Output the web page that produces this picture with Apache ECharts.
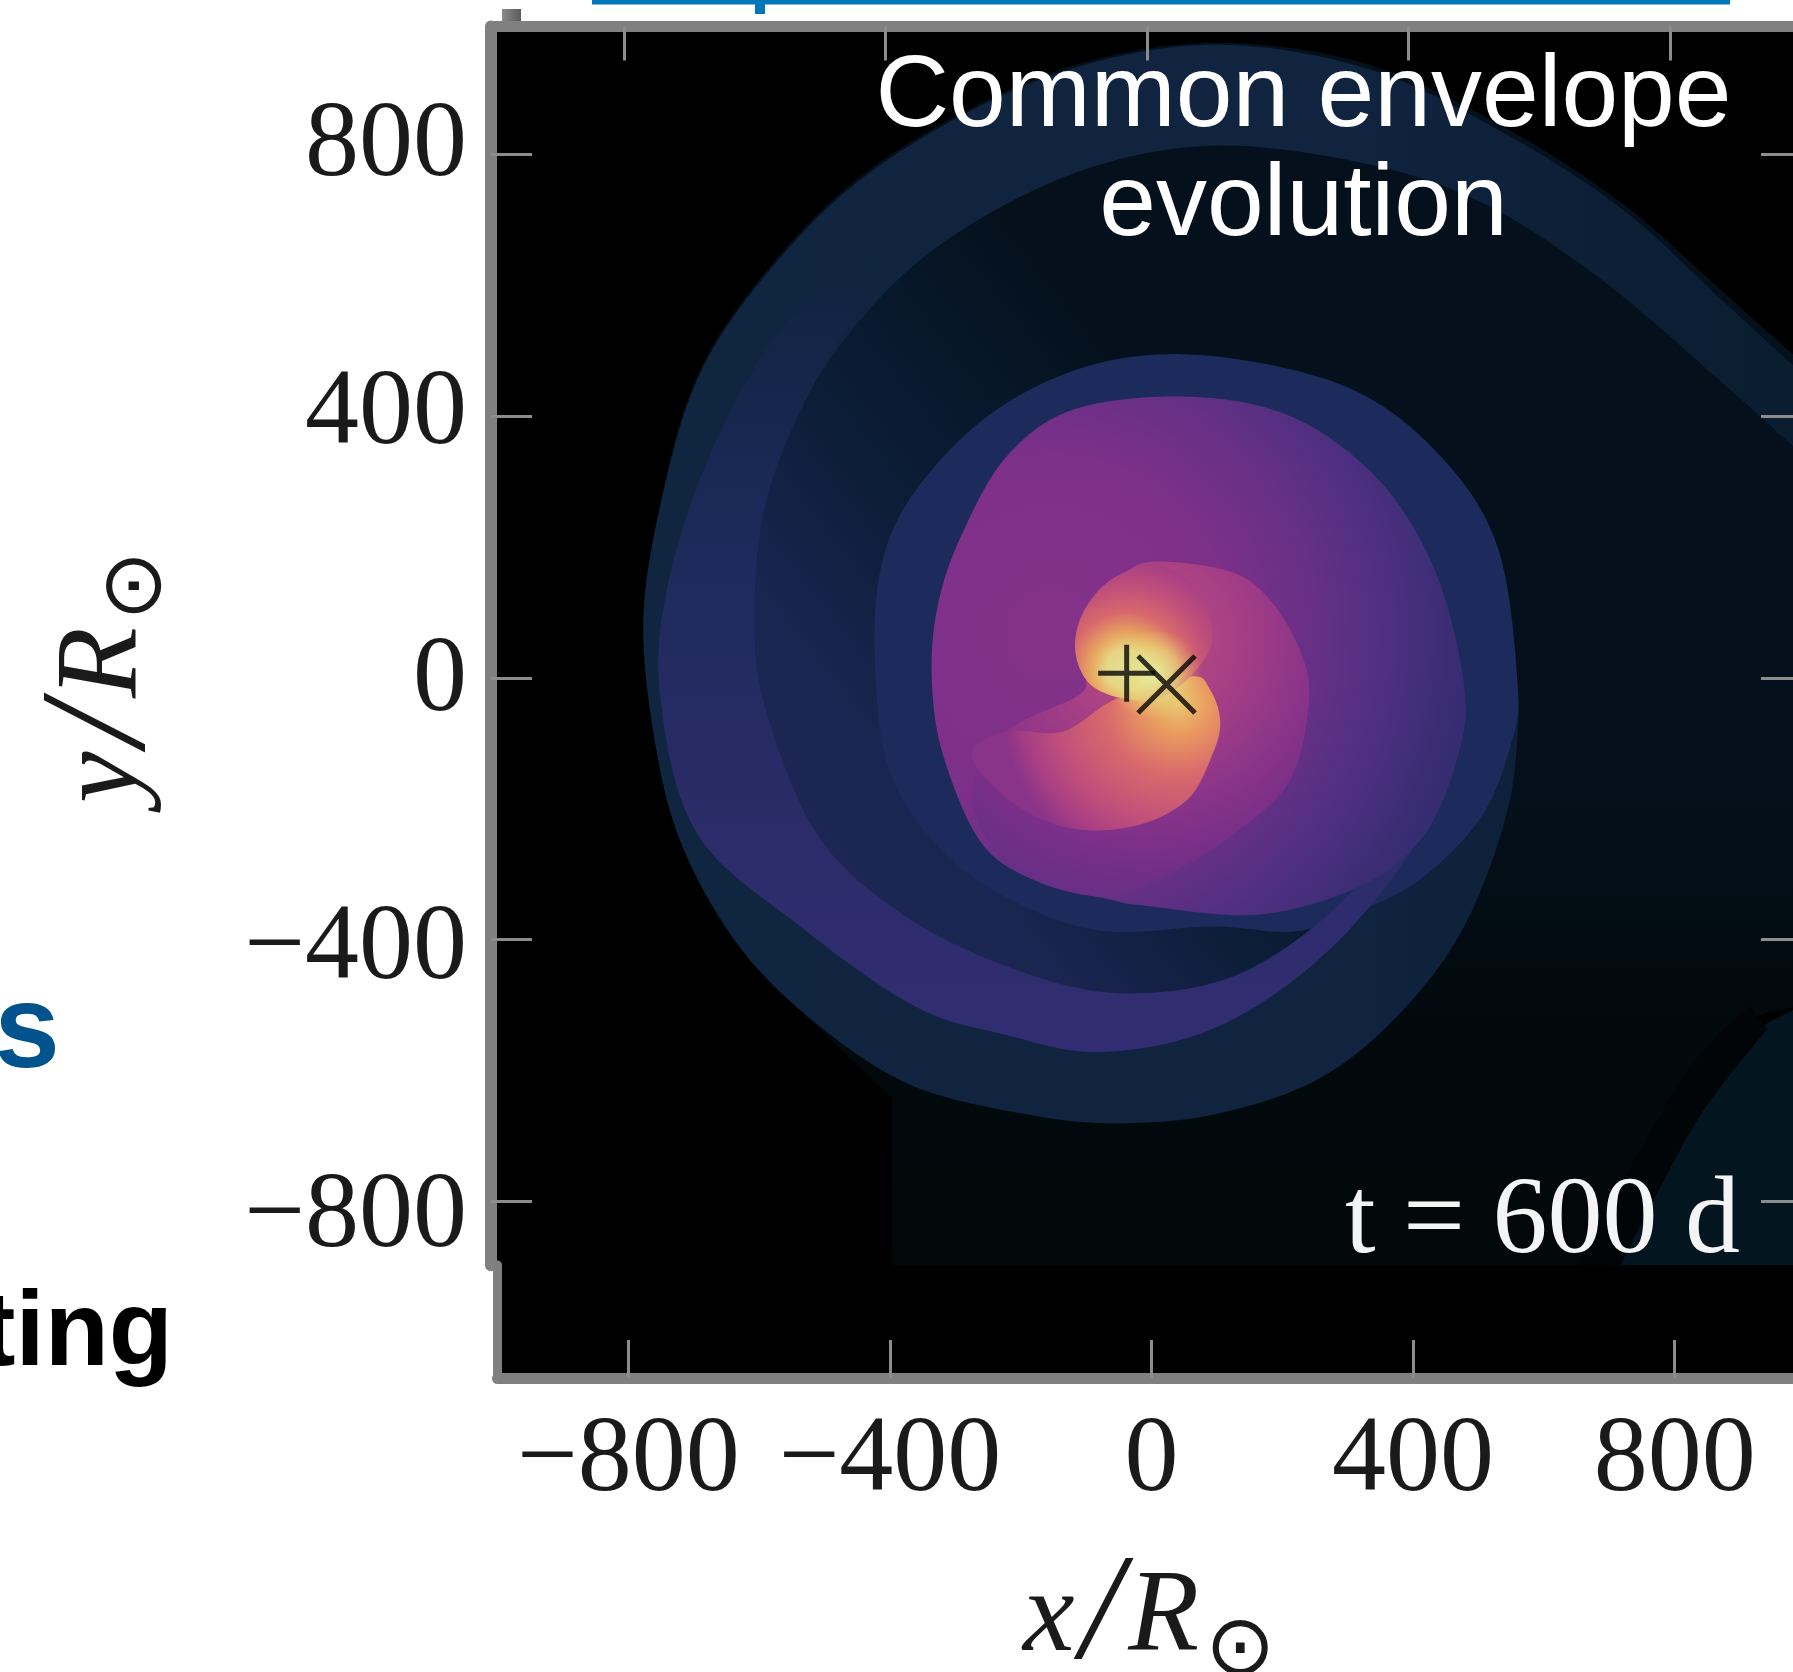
<!DOCTYPE html>
<html><head><meta charset="utf-8">
<style>html,body{margin:0;padding:0;background:#fff}#c{width:1793px;height:1672px}</style>
<script src="https://cdn.jsdelivr.net/npm/echarts@6/dist/echarts.min.js"></script>
</head><body><div id="c"></div>
<script>
const tickValues = [-800, -400, 0, 400, 800];
const primaryPosition = [-31, 7];
const secondaryPosition = [30, -10];

// contour outlines in units of R_sun; a third entry marks a sharp corner
const fieldOutline = [[117,971],[345,936],[555,837],[730,723],[870,600],[1045,443,1],[1045,-502,1],[901,-536],[747,-751],[686,-922,1],[-390,-922,1],[-390,-642,1],[-618,-415],[-705,-257],[-749,-100],[-767,93],[-740,285],[-688,460],[-600,600],[-460,749],[-285,863],[-93,942]];
const tailBandOutline = [[1045,-485,1],[922,-546],[817,-677],[739,-817],[695,-922,1],[1045,-922,1]];
const tailGapOutline = [[922,-502,1],[835,-590],[730,-765],[651,-922,1],[712,-922,1],[774,-800],[852,-660],[949,-537,1]];
const outerArmOutline = [[1045,425,1],[870,586],[730,714],[555,828],[345,929],[117,968],[-93,938],[-285,859],[-460,744],[-600,595],[-688,455],[-740,282],[-770,93],[-752,-100],[-709,-261],[-618,-418],[-495,-537],[-355,-625],[-180,-668],[-49,-681],[100,-668],[257,-616],[380,-520],[485,-380],[555,-187],[569,-12,1],[1045,-12,1]];
const gapOutline = [[1045,303,1],[870,460],[695,609],[520,723],[345,784],[117,814],[-75,784],[-250,705],[-390,600],[-513,443],[-583,268],[-600,93],[-583,-47],[-504,-240],[-373,-362],[-215,-441],[-58,-481],[100,-467],[222,-406,1],[345,-310],[467,-100],[590,-30,1],[1045,-30,1]];
const innerArmOutline = [[100,492],[310,443],[450,338],[537,198],[567,-12],[557,-100],[511,-213],[415,-310],[310,-362],[222,-388],[100,-380],[-58,-388],[-180,-353],[-303,-275],[-390,-152],[-415,0],[-408,163],[-355,285],[-233,408],[-75,481]];
const midBandOutline = [[-408,644,1],[-548,548],[-662,355],[-732,145],[-744,-30],[-688,-238],[-530,-380],[-355,-502],[-215,-546],[-72,-572],[100,-537],[261,-432],[397,-275],[480,-105,1],[345,-292],[222,-406],[100,-467],[-58,-481],[-215,-441],[-373,-362],[-504,-240],[-583,-47],[-600,93],[-583,268],[-513,443],[-408,618,1]];
const purpleOutline = [[65,430],[222,399],[354,303],[441,163],[485,-12],[476,-117],[424,-240],[327,-318],[170,-362],[-5,-348],[-60,-338],[-163,-313],[-252,-254],[-312,-117],[-329,0],[-320,110],[-285,215],[-215,338],[-110,411]];
const magentaOutline = [[19,178],[126,163],[184,124],[231,49],[248,-30],[219,-156],[131,-240],[30,-301],[-60,-334],[-163,-313],[-233,-266],[-268,-170],[-215,-82],[-110,-30],[-93,-3],[-110,49],[-93,108],[-31,163]];
const lowerLobeOutline = [[66,2],[96,-17],[112,-65],[101,-115],[61,-187],[-21,-227],[-122,-229],[-210,-187],[-268,-117],[-215,-82],[-128,-82],[-49,-33]];
const upperLobeOutline = [[19,173],[-49,154],[-93,108],[-110,49],[-93,-3],[-51,-28],[12,-33],[66,2],[100,58],[82,128]];
const glowOutline = [[-80,2],[-60,50],[0,70],[60,60],[100,10],[90,-40],[40,-60],[-40,-50]];

const lin = (x,y,x2,y2,stops)=>({type:'linear',x,y,x2,y2,global:false,colorStops:stops.map(s=>({offset:s[0],color:s[1]}))});
const rad = (x,y,r,stops)=>({type:'radial',x,y,r,global:false,colorStops:stops.map(s=>({offset:s[0],color:s[1]}))});

const layers = [
  {points: fieldOutline, fill: lin(0,0,0,1,[[0,'#04111c'],[.6,'#04111c'],[.76,'#020a0f'],[1,'#020708']])},
  {points: tailBandOutline, fill:'#03161f'},
  {points: tailGapOutline, fill:'#010507'},
  {points: outerArmOutline, fill: lin(0,0,1,0,[[0,'#10253f'],[.6,'#10233f'],[1,'#0a1c2e']])},
  {points: gapOutline, fill: lin(0,1,1,0,[[0,'#1e2757'],[.18,'#1b2551'],[.3,'#0c1d38'],[.5,'#04111c'],[1,'#04111c']])},
  {points: innerArmOutline, fill:'#1c2b5c'},
  {points: midBandOutline, fill: lin(0,0,0,1,[[0,'#10253f'],[.15,'#14264a'],[.35,'#1c2a5a'],[.75,'#2c2c6a'],[1,'#322d72']])},
  {points: purpleOutline, fill: rad(.226,.46,.85,[[0,'#85328a'],[.4,'#7d3088'],[.6,'#663086'],[.78,'#4c2f7f'],[.9,'#3a2d74'],[1,'#332c70']])},
  {points: magentaOutline, fill: rad(.51,.235,.785,[[0,'#c0507a'],[.22,'#b04582'],[.43,'#a03c86'],[.63,'#8a3489'],[.8,'#7a2f88'],[1,'#682f86']])},
  {points: lowerLobeOutline, fill: rad(.83,.17,1.14,[[0,'#e8c870'],[.18,'#ea9a60'],[.42,'#d8696c'],[.7,'#c0507a'],[.88,'#a83e85'],[1,'#8a3489']])},
  {points: upperLobeOutline, fill: rad(.375,.77,.8,[[0,'#dfe9a8'],[.18,'#e6d888'],[.32,'#e8a860'],[.52,'#d8696c'],[.75,'#c0507a'],[1,'#a83e85']])},
  {points: glowOutline, fill: rad(.5,.5,.55,[[0,'rgba(228,240,165,.95)'],[.55,'rgba(232,220,130,.6)'],[1,'rgba(232,190,100,0)']])}
];

// closed Catmull-Rom path through the outline's pixel positions
function curve(px, sharp){
  const n = px.length, out = [], steps = 10;
  const tan = i => sharp[i] ? [0,0] : [(px[(i+1)%n][0]-px[(i-1+n)%n][0])/2,(px[(i+1)%n][1]-px[(i-1+n)%n][1])/2];
  for(let i=0;i<n;i++){
    const a=px[i], b=px[(i+1)%n], ta=tan(i), tb=tan((i+1)%n);
    for(let s=0;s<steps;s++){
      const t=s/steps,t2=t*t,t3=t2*t;
      const h1=2*t3-3*t2+1,h2=-2*t3+3*t2,h3=t3-2*t2+t,h4=t3-t2;
      out.push([h1*a[0]+h2*b[0]+h3*ta[0]+h4*tb[0],h1*a[1]+h2*b[1]+h3*ta[1]+h4*tb[1]]);
    }
  }
  return out;
}

const FRAME = '#808080', TICK = '#8c8c8c';
const serif = '"Liberation Serif"', sans = '"Liberation Sans"';
const INK = '#1a1a1a';
const minus = v => String(v).replace('-', '\u2212');
const ticks = len => ({show:true,inside:true,length:len,customValues:tickValues,lineStyle:{color:TICK,width:3}});
const nameRich = {
  i:{fontFamily:serif,fontStyle:'italic',fontSize:116,color:INK,padding:[0,6,0,6]},
  l:{fontFamily:serif,fontStyle:'italic',fontSize:150,color:INK},
  s:{fontFamily:'"DejaVu Sans"',fontSize:84,color:INK,verticalAlign:'bottom',padding:[30,0,0,0]},
  t:{fontFamily:'"DejaVu Sans"',fontSize:84,color:INK,verticalAlign:'bottom',padding:[30,68,0,0]}
};

const chart = echarts.init(document.getElementById('c'), null, {renderer:'canvas'});
chart.setOption({
  animation:false,
  backgroundColor:'#fff',
  grid:[
    {left:491,top:26.5,width:1304,height:1238.7,show:true,backgroundColor:'#000',borderWidth:0,outerBoundsMode:'none',containLabel:false},
    {left:497.5,top:1265,width:1297.5,height:113,show:true,backgroundColor:'#000',borderWidth:0,outerBoundsMode:'none',containLabel:false}
  ],
  xAxis:[
    {gridIndex:0,type:'value',min:-1003,max:991,position:'top',z:5,
     axisLine:{show:true,onZero:false,lineStyle:{color:FRAME,width:11}},
     axisTick:ticks(34),axisLabel:{show:false},splitLine:{show:false}},
    {gridIndex:1,type:'value',min:-1000,max:984,position:'bottom',z:5,
     axisLine:{show:true,onZero:false,lineStyle:{color:FRAME,width:11}},
     axisTick:ticks(38),
     axisLabel:{show:true,customValues:tickValues,formatter:minus,margin:30,fontFamily:serif,fontSize:108,color:INK},
     splitLine:{show:false},
     name:'{i|x}{l|/}{i|R}{s|\u2299}',nameLocation:'middle',nameGap:166,
     nameTextStyle:{rich:nameRich}}
  ],
  yAxis:[
    {gridIndex:0,type:'value',min:-898,max:996,position:'left',z:5,
     axisLine:{show:true,onZero:false,lineStyle:{color:FRAME,width:12}},
     axisTick:ticks(41),axisLabel:{show:false},splitLine:{show:false}},
    {gridIndex:0,type:'value',min:-898,max:996,position:'right',z:5,
     axisLine:{show:false,onZero:false},axisTick:ticks(34),axisLabel:{show:false},splitLine:{show:false}},
    {gridIndex:0,type:'value',min:-871,max:979,position:'left',z:5,
     axisLine:{show:false,onZero:false},axisTick:{show:false},splitLine:{show:false},
     axisLabel:{show:true,customValues:tickValues,formatter:minus,margin:24,fontFamily:serif,fontSize:108,color:INK},
     name:'{i|y}{l|/}{i|R}{t|\u2299}',nameLocation:'middle',nameGap:311,nameRotate:90,
     nameTextStyle:{rich:nameRich}},
    {gridIndex:1,type:'value',min:0,max:1,position:'left',z:5,
     axisLine:{show:true,onZero:false,lineStyle:{color:FRAME,width:9}},
     axisTick:{show:false},axisLabel:{show:false},splitLine:{show:false}}
  ],
  series:[
    {type:'custom',coordinateSystem:'cartesian2d',xAxisIndex:0,yAxisIndex:0,clip:true,silent:true,z:2,
     data:layers.map((l,i)=>[i,0]),
     renderItem(params,api){
       const layer = layers[api.value(0)];
       const px = layer.points.map(p=>api.coord([p[0],p[1]]));
       return {type:'polygon',
         shape:{points:curve(px, layer.points.map(p=>!!p[2]))},
         style:{fill:layer.fill,stroke:null}};
     }},
    {type:'scatter',xAxisIndex:0,yAxisIndex:0,z:4,silent:true,
     data:[primaryPosition],symbol:'path://M0,10H20M10,0V20',symbolSize:57,
     itemStyle:{color:'none',borderColor:'#050505',borderWidth:5}},
    {type:'scatter',xAxisIndex:0,yAxisIndex:0,z:4,silent:true,
     data:[secondaryPosition],symbol:'path://M0,0L20,20M20,0L0,20',symbolSize:57,
     itemStyle:{color:'none',borderColor:'#050505',borderWidth:5}}
  ],
  graphic:[
    {type:'rect',z:10,shape:{x:592,y:0,width:1138,height:4.5},style:{fill:'#0077bb'}},
    {type:'rect',z:10,shape:{x:755,y:0,width:10,height:14},style:{fill:'#0077bb'}},
    {type:'rect',z:10,shape:{x:502,y:9,width:19,height:12},style:{fill:{type:'linear',x:0,y:0,x2:1,y2:0,colorStops:[{offset:0,color:'#8a8a8a'},{offset:1,color:'#5a5a5a'}]}}},
    {type:'text',z:10,x:1303.5,y:149,style:{text:'Common envelope',fill:'#fff',font:'102px '+sans,textAlign:'center',textVerticalAlign:'bottom'}},
    {type:'text',z:10,x:1303.5,y:258,style:{text:'evolution',fill:'#fff',font:'102px '+sans,textAlign:'center',textVerticalAlign:'bottom'}},
    {type:'text',z:10,x:1740,y:1278,style:{text:'t = 600 d',fill:'#f4f4f4',font:'110px '+serif,textAlign:'right',textVerticalAlign:'bottom'}},
    {type:'text',z:10,x:60,y:1093,style:{text:'s',fill:'#00538c',font:'bold 118px '+sans,textAlign:'right',textVerticalAlign:'bottom'}},
    {type:'text',z:10,x:173,y:1389,style:{text:'ting',fill:'#000',font:'bold 105px '+sans,textAlign:'right',textVerticalAlign:'bottom'}}
  ]
});
</script></body></html>
